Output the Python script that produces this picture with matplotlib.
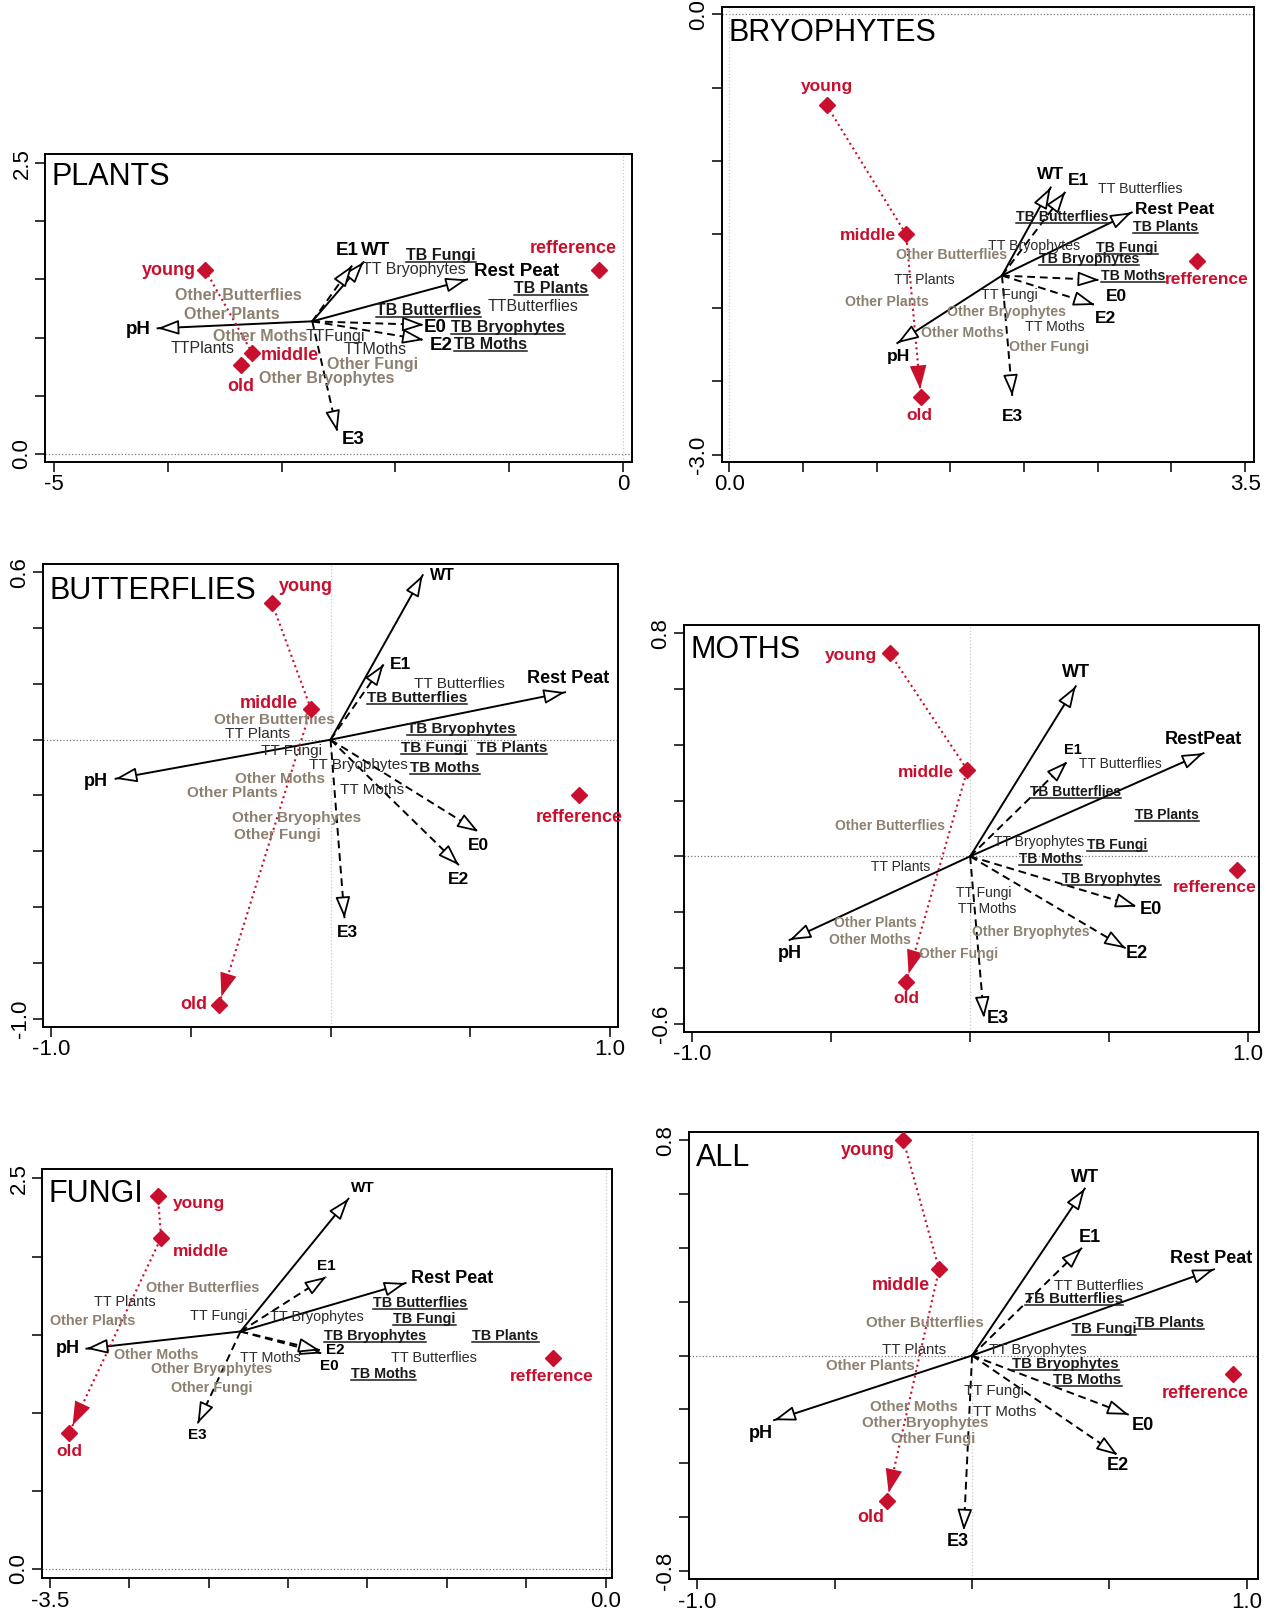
import numpy as np
import matplotlib
matplotlib.use("Agg")
import matplotlib.pyplot as plt
from matplotlib.lines import Line2D

plt.rcParams['font.family'] = ['Liberation Sans', 'DejaVu Sans']

RED = '#c8102e'
GREY = '#8c8070'

# names shared by all panels
ENV = ['pH', 'WT', 'Rest Peat', 'E0', 'E1', 'E2', 'E3']
ENV_DASHED = [False, False, False, True, True, True, True]
SITES = ['young', 'middle', 'old', 'refference']
SPECIES = ['TT Butterflies', 'TT Plants', 'TT Bryophytes', 'TT Fungi', 'TT Moths',
           'TB Butterflies', 'TB Plants', 'TB Bryophytes', 'TB Fungi', 'TB Moths',
           'Other Butterflies', 'Other Plants', 'Other Bryophytes', 'Other Fungi', 'Other Moths']

plants = dict(
    title='PLANTS', xlim=(-5.08, 0.08), ylim=(-0.07, 2.58),
    xticks=(-5, 0, 1.0), yticks=(0.0, 2.5, 0.5), xlab=('-5', '0'), ylab=('0.0', '2.5'),
    origin=(-2.73, 1.14),
    env_x=[-4.09, -2.28, -1.37, -1.75, -2.38, -1.75, -2.51],
    env_y=[1.08, 1.65, 1.50, 1.11, 1.62, 0.98, 0.19],
    env_lx=[-4.26, -2.17, -0.93, -1.65, -2.42, -1.60, -2.37],
    env_ly=[1.07, 1.75, 1.57, 1.09, 1.75, 0.93, 0.12],
    site_x=[-3.67, -3.26, -3.36, -0.21],
    site_y=[1.58, 0.87, 0.76, 1.58],
    site_lx=[-3.99, -2.93, -3.36, -0.44],
    site_ly=[1.58, 0.85, 0.58, 1.77],
    sp_x=[-0.79, -3.69, -1.84, -2.53, -2.18, -1.71, -0.63, -1.01, -1.60, -1.16,
          -3.38, -3.44, -2.60, -2.20, -3.19],
    sp_y=[1.27, 0.91, 1.59, 1.01, 0.90, 1.23, 1.42, 1.09, 1.71, 0.94,
          1.36, 1.20, 0.65, 0.77, 1.01],
    rename={'TT Butterflies': 'TTButterflies', 'TT Plants': 'TTPlants',
            'TT Fungi': 'TTFungi', 'TT Moths': 'TTMoths'},
    sp_fs=11.5, env_fs=[13.5] * 7, site_fs=13, red_head=False,
)

bryophytes = dict(
    title='BRYOPHYTES', xlim=(-0.05, 3.56), ylim=(-3.05, 0.05),
    xticks=(0.0, 3.5, 0.5), yticks=(-3.0, 0.0, 0.5), xlab=('0.0', '3.5'), ylab=('-3.0', '0.0'),
    origin=(1.85, -1.78),
    env_x=[1.14, 2.18, 2.73, 2.51, 2.28, 2.48, 1.92],
    env_y=[-2.24, -1.18, -1.35, -1.81, -1.21, -1.98, -2.60],
    env_lx=[1.15, 2.18, 3.02, 2.63, 2.37, 2.55, 1.92],
    env_ly=[-2.33, -1.09, -1.33, -1.92, -1.13, -2.07, -2.74],
    site_x=[0.66, 1.20, 1.30, 3.17],
    site_y=[-0.62, -1.50, -2.61, -1.68],
    site_lx=[0.66, 0.94, 1.29, 3.24],
    site_ly=[-0.49, -1.51, -2.73, -1.81],
    sp_x=[2.79, 1.32, 2.07, 1.90, 2.21, 2.26, 2.96, 2.44, 2.70, 2.74,
          1.51, 1.07, 1.88, 2.17, 1.58],
    sp_y=[-1.19, -1.81, -1.58, -1.91, -2.13, -1.38, -1.45, -1.67, -1.59, -1.78,
          -1.64, -1.96, -2.03, -2.27, -2.17],
    rename={}, sp_fs=10.2, env_fs=[12.5] * 7, site_fs=12.5, red_head=True,
)

butterflies = dict(
    title='BUTTERFLIES', xlim=(-1.03, 1.03), ylim=(-1.03, 0.63),
    xticks=(-1.0, 1.0, 0.5), yticks=(-1.0, 0.6, 0.2), xlab=('-1.0', '1.0'), ylab=('-1.0', '0.6'),
    origin=(0.0, 0.0),
    env_x=[-0.77, 0.33, 0.84, 0.53, 0.19, 0.46, 0.05],
    env_y=[-0.14, 0.59, 0.17, -0.33, 0.27, -0.45, -0.64],
    env_lx=[-0.84, 0.40, 0.85, 0.53, 0.25, 0.46, 0.06],
    env_ly=[-0.15, 0.59, 0.22, -0.38, 0.27, -0.50, -0.69],
    site_x=[-0.21, -0.07, -0.40, 0.89],
    site_y=[0.49, 0.11, -0.95, -0.20],
    site_lx=[-0.09, -0.22, -0.49, 0.89],
    site_ly=[0.55, 0.13, -0.95, -0.28],
    sp_x=[0.46, -0.26, 0.10, -0.14, 0.15, 0.31, 0.65, 0.47, 0.37, 0.41,
          -0.20, -0.35, -0.12, -0.19, -0.18],
    sp_y=[0.20, 0.02, -0.09, -0.04, -0.18, 0.15, -0.03, 0.04, -0.03, -0.10,
          0.07, -0.19, -0.28, -0.34, -0.14],
    rename={}, sp_fs=11, env_fs=[13, 11.5, 13, 12.5, 12.5, 12.5, 12.5], site_fs=13, red_head=True,
)

moths = dict(
    title='MOTHS', xlim=(-1.03, 1.04), ylim=(-0.63, 0.83),
    xticks=(-1.0, 1.0, 0.5), yticks=(-0.6, 0.8, 0.2), xlab=('-1.0', '1.0'), ylab=('-0.6', '0.8'),
    origin=(0.0, 0.0),
    env_x=[-0.65, 0.38, 0.84, 0.60, 0.35, 0.56, 0.05],
    env_y=[-0.30, 0.61, 0.37, -0.18, 0.34, -0.33, -0.58],
    env_lx=[-0.65, 0.38, 0.84, 0.65, 0.37, 0.60, 0.10],
    env_ly=[-0.35, 0.66, 0.42, -0.19, 0.38, -0.35, -0.58],
    site_x=[-0.29, -0.01, -0.23, 0.96],
    site_y=[0.73, 0.31, -0.45, -0.05],
    site_lx=[-0.43, -0.16, -0.23, 0.88],
    site_ly=[0.72, 0.30, -0.51, -0.11],
    sp_x=[0.54, -0.25, 0.25, 0.05, 0.06, 0.38, 0.71, 0.51, 0.53, 0.29,
          -0.29, -0.34, 0.22, -0.04, -0.36],
    sp_y=[0.33, -0.04, 0.05, -0.13, -0.19, 0.23, 0.15, -0.08, 0.04, -0.01,
          0.11, -0.24, -0.27, -0.35, -0.30],
    rename={'Rest Peat': 'RestPeat'}, sp_fs=10, env_fs=[13, 13, 13, 13, 10.5, 13, 13],
    site_fs=12.5, red_head=True,
)

fungi = dict(
    title='FUNGI', xlim=(-3.55, 0.04), ylim=(-0.06, 2.56),
    xticks=(-3.5, 0.0, 0.5), yticks=(0.0, 2.5, 0.5), xlab=('-3.5', '0.0'), ylab=('0.0', '2.5'),
    origin=(-2.30, 1.52),
    env_x=[-3.27, -1.62, -1.26, -1.79, -1.76, -1.80, -2.57],
    env_y=[1.41, 2.37, 1.83, 1.38, 1.87, 1.40, 0.93],
    env_lx=[-3.39, -1.53, -0.97, -1.74, -1.76, -1.70, -2.57],
    env_ly=[1.41, 2.44, 1.86, 1.30, 1.94, 1.40, 0.86],
    site_x=[-2.82, -2.80, -3.38, -0.33],
    site_y=[2.39, 2.12, 0.87, 1.35],
    site_lx=[-2.56, -2.55, -3.38, -0.34],
    site_ly=[2.34, 2.03, 0.75, 1.23],
    sp_x=[-1.08, -3.03, -1.82, -2.44, -2.11, -1.17, -0.63, -1.45, -1.14, -1.40,
          -2.54, -3.23, -2.48, -2.48, -2.83],
    sp_y=[1.35, 1.71, 1.61, 1.62, 1.35, 1.70, 1.49, 1.49, 1.60, 1.25,
          1.80, 1.59, 1.28, 1.16, 1.37],
    rename={}, sp_fs=10.4, env_fs=[13, 11, 13, 11, 11, 11, 11], site_fs=12.5, red_head=True,
)

all_groups = dict(
    title='ALL', xlim=(-1.03, 1.04), ylim=(-0.83, 0.83),
    xticks=(-1.0, 1.0, 0.5), yticks=(-0.8, 0.8, 0.2), xlab=('-1.0', '1.0'), ylab=('-0.8', '0.8'),
    origin=(0.0, 0.0),
    env_x=[-0.72, 0.41, 0.88, 0.57, 0.40, 0.53, -0.03],
    env_y=[-0.24, 0.62, 0.32, -0.22, 0.40, -0.37, -0.65],
    env_lx=[-0.77, 0.41, 0.87, 0.62, 0.43, 0.53, -0.05],
    env_ly=[-0.29, 0.66, 0.36, -0.26, 0.44, -0.41, -0.69],
    site_x=[-0.25, -0.12, -0.31, 0.95],
    site_y=[0.80, 0.32, -0.54, -0.07],
    site_lx=[-0.38, -0.26, -0.37, 0.85],
    site_ly=[0.76, 0.26, -0.60, -0.14],
    sp_x=[0.46, -0.21, 0.24, 0.08, 0.12, 0.37, 0.72, 0.34, 0.48, 0.42,
          -0.17, -0.37, -0.17, -0.14, -0.21],
    sp_y=[0.26, 0.02, 0.02, -0.13, -0.21, 0.21, 0.12, -0.03, 0.10, -0.09,
          0.12, -0.04, -0.25, -0.31, -0.19],
    rename={}, sp_fs=10.8, env_fs=[13] * 7, site_fs=13, red_head=True,
)

fig = plt.figure(figsize=(12.66, 16.17), dpi=100)
underlined = []

HEAD = '-|>,head_length=1.3,head_width=0.45'


def draw_panel(rect, p):
    ax = fig.add_axes(rect)
    ax.set_xlim(p['xlim'])
    ax.set_ylim(p['ylim'])
    for s in ax.spines.values():
        s.set_linewidth(1.4)

    # ticks, R style: every tick drawn, only the ends labelled
    a, b, st = p['xticks']
    xt = np.round(np.arange(a, b + st / 2, st), 3)
    ax.set_xticks(xt)
    ax.set_xticklabels([p['xlab'][0]] + [''] * (len(xt) - 2) + [p['xlab'][1]])
    a, b, st = p['yticks']
    yt = np.round(np.arange(a, b + st / 2, st), 3)
    ax.set_yticks(yt)
    ax.set_yticklabels([p['ylab'][0]] + [''] * (len(yt) - 2) + [p['ylab'][1]],
                       rotation=90, va='center')
    ax.tick_params(direction='out', length=7, width=1.1, labelsize=16, pad=2)

    ax.axhline(0, ls=':', color='#777777', lw=0.9, zorder=0)
    ax.axvline(0, ls=':', color='#c8c8c8', lw=0.9, zorder=0)

    ax.text(0.012, 0.975, p['title'], transform=ax.transAxes, fontsize=22,
            ha='left', va='top', zorder=6)

    # environmental arrows
    ox, oy = p['origin']
    for i, name in enumerate(ENV):
        tx, ty = p['env_x'][i], p['env_y'][i]
        ls = (0, (4, 2.5)) if ENV_DASHED[i] else '-'
        ax.plot([ox, tx], [oy, ty], color='black', lw=1.4, ls=ls, zorder=3)
        bx, by = tx - 0.02 * (tx - ox), ty - 0.02 * (ty - oy)
        ax.annotate('', xy=(tx, ty), xytext=(bx, by),
                    arrowprops=dict(arrowstyle=HEAD, mutation_scale=10, fc='white',
                                    ec='black', lw=1.3, shrinkA=0, shrinkB=0),
                    zorder=4)
        ax.text(p['env_lx'][i], p['env_ly'][i], p['rename'].get(name, name),
                fontsize=p['env_fs'][i], fontweight='bold', ha='center', va='center',
                zorder=5)

    # species labels
    for i, name in enumerate(SPECIES):
        label = p['rename'].get(name, name)
        if name.startswith('TT'):
            kw = dict(color='#2b2b2b')
        elif name.startswith('TB'):
            kw = dict(color='#1a1a1a', fontweight='bold')
        else:
            kw = dict(color=GREY, fontweight='bold')
        t = ax.text(p['sp_x'][i], p['sp_y'][i], label, fontsize=p['sp_fs'],
                    ha='center', va='center', zorder=5, **kw)
        if name.startswith('TB'):
            underlined.append(t)

    # succession trajectory: dotted line, solid filled head short of "old"
    sx, sy = p['site_x'], p['site_y']
    ax.plot(sx[:3], sy[:3], color=RED, ls=':', lw=1.5, zorder=3)
    if p['red_head']:
        ax.annotate('', xy=(sx[2], sy[2]), xytext=(sx[1], sy[1]),
                    arrowprops=dict(arrowstyle='-|>,head_length=1.7,head_width=0.6',
                                    mutation_scale=10, fc=RED, ec=RED, lw=0,
                                    shrinkA=0, shrinkB=6),
                    zorder=3)
    ax.plot(sx, sy, ls='none', marker='D', ms=8, color=RED, zorder=6)
    for i, name in enumerate(SITES):
        ax.text(p['site_lx'][i], p['site_ly'][i], name, color=RED,
                fontsize=p['site_fs'], fontweight='bold', ha='center', va='center',
                zorder=6)
    return ax


draw_panel([0.0355, 0.7143, 0.4637, 0.1905], plants)
draw_panel([0.5703, 0.7143, 0.4202, 0.2814], bryophytes)
draw_panel([0.0340, 0.3649, 0.4542, 0.2863], butterflies)
draw_panel([0.5403, 0.3618, 0.4542, 0.2517], moths)
draw_panel([0.0332, 0.0240, 0.4502, 0.2530], fungi)
draw_panel([0.5442, 0.0235, 0.4494, 0.2764], all_groups)

# underline the TB labels
fig.canvas.draw()
r = fig.canvas.get_renderer()
inv = fig.transFigure.inverted()
for t in underlined:
    bb = t.get_window_extent(r)
    (x0, y0), (x1, _) = inv.transform([(bb.x0, bb.y0 + 1.0), (bb.x1, bb.y0 + 1.0)])
    fig.add_artist(Line2D([x0, x1], [y0, y0], color='#1a1a1a', lw=1.1, zorder=7))

fig.savefig('out.png', dpi=100, facecolor='white')
